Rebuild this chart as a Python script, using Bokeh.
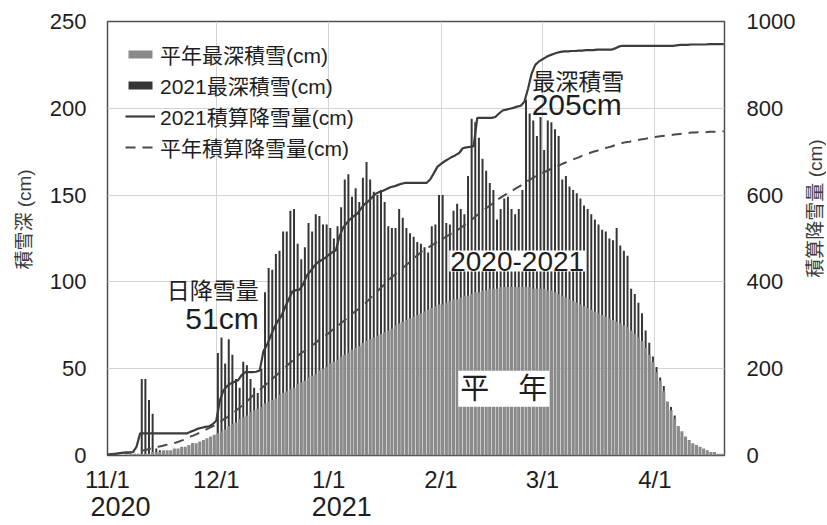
import pandas as pd
from bokeh.plotting import figure
from bokeh.models import (Range1d, LinearAxis, FixedTicker, Legend, LegendItem,
                          Label, ColumnDataSource)
from bokeh.transform import dodge
from bokeh.embed import file_html
from bokeh.resources import INLINE

# ---------------- data ----------------
dates = pd.date_range("2020-11-01", "2021-04-20", freq="D")

# 平年最深積雪 (cm), daily
normal_depth = (
    [0, 0, 0, 0, 0, 0, 1, 1, 1, 1, 1, 1, 2, 2, 2, 3, 3, 3, 4, 4,
     5, 5, 6, 7, 7, 8, 9, 10, 11, 12] +                                   # Nov
    [13, 14, 15, 17, 18, 19, 21, 22, 23, 25, 26, 27, 28, 30, 31, 32, 33, 35,
     36, 37, 38, 39, 41, 42, 43, 45, 46, 47, 49, 50, 51] +                # Dec
    [53, 54, 55, 57, 58, 59, 61, 62, 63, 65, 66, 67, 68, 69, 70, 71, 72, 73,
     75, 76, 77, 78, 79, 80, 81, 82, 83, 84, 85, 86, 87] +                # Jan
    [87, 88, 89, 90, 90, 91, 92, 92, 93, 94, 94, 95, 95, 96, 96, 96, 97, 97,
     97, 97, 97, 97, 97, 97, 97, 96, 96, 96] +                            # Feb
    [96, 95, 95, 94, 93, 92, 91, 90, 89, 88, 87, 86, 85, 84, 83, 82, 81, 80,
     79, 78, 77, 76, 75, 74, 72, 70, 68, 66, 62, 58, 54] +                # Mar
    [48, 43, 37, 31, 26, 21, 17, 14, 11, 9, 7, 6, 5, 4, 3, 2, 2, 1, 1, 1]  # Apr
)

# 2021最深積雪 (cm), daily
depth_2021 = (
    [0, 0, 0, 0, 0, 0, 0, 0, 0, 44, 44, 32, 24, 4, 3, 0, 0, 0, 0, 0,
     0, 0, 0, 7, 3, 0, 8, 5, 0, 9] +                                      # Nov
    [59, 68, 53, 67, 58, 44, 39, 54, 52, 44, 39, 36, 50, 94, 108, 107, 116,
     118, 129, 129, 141, 142, 122, 113, 120, 134, 129, 139, 138, 133, 133] +  # Dec
    [131, 125, 132, 143, 159, 162, 149, 154, 146, 160, 169, 159, 152, 150,
     153, 146, 132, 131, 131, 142, 137, 131, 128, 126, 123, 122, 120, 117,
     132, 133, 150] +                                                     # Jan
    [150, 134, 133, 141, 145, 142, 139, 161, 194, 192, 183, 171, 164, 157,
     153, 136, 142, 148, 149, 142, 139, 142, 153, 205, 197, 193, 184, 195] +  # Feb
    [176, 193, 192, 188, 184, 159, 161, 155, 153, 151, 148, 144, 142, 139,
     136, 133, 130, 129, 125, 124, 131, 121, 118, 115, 96, 93, 88, 82, 72,
     65, 57] +                                                            # Mar
    [51, 45, 40, 31, 28, 23, 16, 12, 9, 7, 3, 0, 0, 0, 0, 0, 0, 0, 0, 0]   # Apr
)

# 2021積算降雪量 (cm), daily
cum_2021 = (
    [2, 3, 4, 5, 6, 7, 7, 8, 20, 51, 51, 51, 51, 51, 51, 51, 51, 51, 51, 51,
     51, 51, 51, 55, 58, 62, 64, 66, 67, 72] +                            # Nov
    [80, 127, 150, 160, 166, 170, 173, 185, 192, 192, 192, 193, 196, 240,
     255, 275, 295, 310, 322, 342, 360, 378, 381, 382, 395, 415, 425, 436,
     445, 450, 455] +                                                     # Dec
    [462, 468, 473, 505, 525, 536, 545, 552, 558, 570, 580, 586, 595, 603,
     607, 610, 614, 618, 620, 623, 626, 628, 628, 628, 628, 628, 628, 628,
     636, 650, 665] +                                                     # Jan
    [672, 678, 683, 688, 692, 697, 708, 710, 711, 713, 778, 778, 778, 778,
     778, 780, 788, 795, 797, 799, 801, 804, 806, 815, 845, 880, 900, 908] +  # Feb
    [913, 918, 922, 925, 928, 930, 931, 931, 932, 932, 933, 933, 934, 934,
     934, 935, 935, 935, 935, 935, 938, 942, 944, 944, 944, 944, 944, 944,
     944, 944, 944] +                                                     # Mar
    [944, 944, 944, 944, 944, 944, 945, 946, 946, 946, 947, 947, 947, 947,
     947, 948, 948, 948, 948, 948]                                        # Apr
)

# 平年積算降雪量 (cm), daily
cum_normal = (
    [0, 1, 2, 3, 4, 5, 6, 8, 9, 11, 12, 14, 16, 18, 20, 22, 24, 26, 28, 30,
     33, 36, 40, 44, 47, 51, 55, 59, 63, 67] +                            # Nov
    [72, 77, 83, 88, 94, 100, 107, 114, 122, 129, 137, 144, 151, 159, 166,
     173, 181, 188, 196, 203, 211, 218, 226, 233, 239, 245, 251, 257, 264,
     270, 276] +                                                          # Dec
    [282, 289, 296, 302, 309, 316, 323, 330, 336, 343, 350, 358, 367, 375,
     383, 391, 400, 408, 415, 422, 429, 436, 443, 450, 458, 465, 472, 477,
     482, 487, 492] +                                                     # Jan
    [497, 502, 507, 512, 517, 522, 528, 535, 541, 547, 554, 560, 567, 573,
     579, 586, 592, 597, 602, 607, 612, 617, 622, 628, 633, 638, 643, 647] +  # Feb
    [651, 655, 659, 662, 666, 670, 674, 677, 681, 684, 687, 691, 694, 697,
     700, 702, 705, 707, 710, 712, 715, 717, 720, 722, 723, 725, 726, 728,
     729, 731, 732] +                                                     # Mar
    [734, 735, 736, 737, 738, 739, 740, 741, 742, 743, 744, 744, 745, 745,
     745, 746, 746, 746, 747, 747]                                        # Apr
)

month_ticks = ["2020-11-01", "2020-12-01", "2021-01-01", "2021-02-01",
               "2021-03-01", "2021-04-01"]
month_labels = ["11/1", "12/1", "1/1", "2/1", "3/1", "4/1"]
year_ticks = ["2020-11-01", "2021-01-01"]
year_labels = ["2020", "2021"]
depth_ticks = [0, 50, 100, 150, 200, 250]
cum_ticks = [0, 200, 400, 600, 800, 1000]

# ---------------- build ----------------
day = [(d - dates[0]).days for d in dates]
month_x = [(pd.Timestamp(t) - dates[0]).days for t in month_ticks]
year_x = [(pd.Timestamp(t) - dates[0]).days for t in year_ticks]

src = ColumnDataSource(dict(day=day, normal_depth=normal_depth,
                            depth_2021=depth_2021, cum_2021=cum_2021,
                            cum_normal=cum_normal))

LATIN = "'Liberation Sans', 'Noto Sans CJK JP', sans-serif"
NARROW = "'Liberation Sans Narrow', 'Liberation Sans', sans-serif"
CJK = "'Liberation Sans', 'Noto Sans CJK JP', sans-serif"
INK = "#1e1e1e"

X_END = day[-1] + 0.2
p = figure(width=826, height=524, output_backend="svg", toolbar_location=None,
           x_range=Range1d(0, X_END), y_range=Range1d(0, 250),
           min_border_left=107, min_border_right=102, min_border_top=21,
           min_border_bottom=69)
p.extra_y_ranges = {"cum": Range1d(0, 1000)}
# year labels sit left-aligned under the month labels: shift their axis ~13px
p.extra_x_ranges = {"yr": Range1d(-3.6, X_END - 3.6)}

p.outline_line_color = "#505050"
p.outline_line_width = 1.5
p.background_fill_color = "white"
p.border_fill_color = "white"

# bars: 2021 behind, normal in front
r_d21 = p.vbar(x=dodge("day", 0.45, range=p.x_range), top="depth_2021",
               width=0.55, source=src, fill_color="#363636",
               line_color=None)
r_nrm = p.vbar(x=dodge("day", 0.45, range=p.x_range), top="normal_depth",
               width=0.85, source=src, fill_color="#8a8a8a",
               line_color=None)
r_c21 = p.line(x="day", y="cum_2021", source=src, y_range_name="cum",
               line_color="#3c3c3c", line_width=2.2)
r_cnm = p.line(x="day", y="cum_normal", source=src, y_range_name="cum",
               line_color="#4a4a4a", line_width=2, line_dash="10 7")


def plain(ax):
    ax.axis_line_color = None
    ax.major_tick_line_color = None
    ax.minor_tick_line_color = None
    ax.major_tick_out = 0
    ax.major_tick_in = 0
    ax.minor_tick_out = 0
    ax.minor_tick_in = 0


# x axis: months
p.xaxis.ticker = FixedTicker(ticks=month_x)
p.xaxis.major_label_overrides = {float(x): l for x, l in zip(month_x, month_labels)}
p.xaxis.major_label_text_font = NARROW
p.xaxis.major_label_text_font_size = "24px"
p.xaxis.major_label_text_color = INK
p.xaxis.major_label_standoff = 10
plain(p.xaxis[0])

# x axis: years
ya = LinearAxis(x_range_name="yr", ticker=FixedTicker(ticks=year_x))
ya.major_label_overrides = {float(x): l for x, l in zip(year_x, year_labels)}
ya.major_label_text_font = LATIN
ya.major_label_text_font_size = "27px"
ya.major_label_text_color = INK
ya.major_label_standoff = 1
plain(ya)
p.add_layout(ya, "below")

# left axis
p.yaxis.ticker = FixedTicker(ticks=depth_ticks)
p.yaxis.major_label_text_font = LATIN
p.yaxis.major_label_text_font_size = "22px"
p.yaxis.major_label_text_color = INK
p.yaxis.major_label_standoff = 21
plain(p.yaxis[0])
p.yaxis.axis_label = "\u3000\u3000積雪深 (cm)"
p.yaxis.axis_label_text_font = CJK
p.yaxis.axis_label_text_font_size = "19px"
p.yaxis.axis_label_text_font_style = "normal"
p.yaxis.axis_label_text_color = "#3a3a3a"
p.yaxis.axis_label_standoff = 12

# right axis (its title is drawn as a rotated label in the right side panel)
ra = LinearAxis(y_range_name="cum", ticker=FixedTicker(ticks=cum_ticks))
ra.major_label_text_font = LATIN
ra.major_label_text_font_size = "22px"
ra.major_label_text_color = INK
ra.major_label_standoff = 22
plain(ra)
p.add_layout(ra, "right")

right_title = Label(x=17, y=247, x_units="screen", y_units="screen",
                    text="積算降雪量 (cm)", angle=90, angle_units="deg",
                    text_align="center", text_baseline="middle",
                    text_font=CJK, text_font_size="19px",
                    text_color="#3a3a3a")
p.add_layout(right_title, "right")

p.xgrid.ticker = FixedTicker(ticks=month_x)
p.xgrid.grid_line_color = "#d4d4d4"
p.ygrid.grid_line_color = "#d4d4d4"

# annotations
p.add_layout(Label(x=41.7, y=95, text="日降雪量", text_align="right",
                   text_baseline="middle", text_font=CJK,
                   text_font_size="23px", text_color=INK))
p.add_layout(Label(x=41.7, y=79, text="51cm", text_align="right",
                   text_baseline="middle", text_font=LATIN,
                   text_font_size="30px", text_color=INK))
p.add_layout(Label(x=117.2, y=215, text="最深積雪", text_align="left",
                   text_baseline="middle", text_font=CJK,
                   text_font_size="23px", text_color=INK))
p.add_layout(Label(x=117.0, y=202, text="205cm", text_align="left",
                   text_baseline="middle", text_font=LATIN,
                   text_font_size="30px", text_color=INK))
p.add_layout(Label(x=113.0, y=112, text="2020-2021", text_align="center",
                   text_baseline="middle", text_font=LATIN,
                   text_font_size="28px", text_color=INK,
                   background_fill_color="white", padding=1))
p.add_layout(Label(x=109.3, y=38.5, text="平\u3000年", text_align="center",
                   text_baseline="middle", text_font=CJK,
                   text_font_size="29px", text_color=INK,
                   background_fill_color="white", padding=2))

legend = Legend(items=[
    LegendItem(label="平年最深積雪(cm)", renderers=[r_nrm]),
    LegendItem(label="2021最深積雪(cm)", renderers=[r_d21]),
    LegendItem(label="2021積算降雪量(cm)", renderers=[r_c21]),
    LegendItem(label="平年積算降雪量(cm)", renderers=[r_cnm]),
], location="top_left")
legend.background_fill_alpha = 0
legend.border_line_alpha = 0
legend.label_text_font = CJK
legend.label_text_font_size = "21px"
legend.label_text_color = INK
legend.glyph_width = 30
legend.glyph_height = 10
legend.label_standoff = 5
legend.spacing = 1
legend.margin = 8
legend.padding = 10
p.add_layout(legend)

open("out.html", "w").write(file_html(p, INLINE))
